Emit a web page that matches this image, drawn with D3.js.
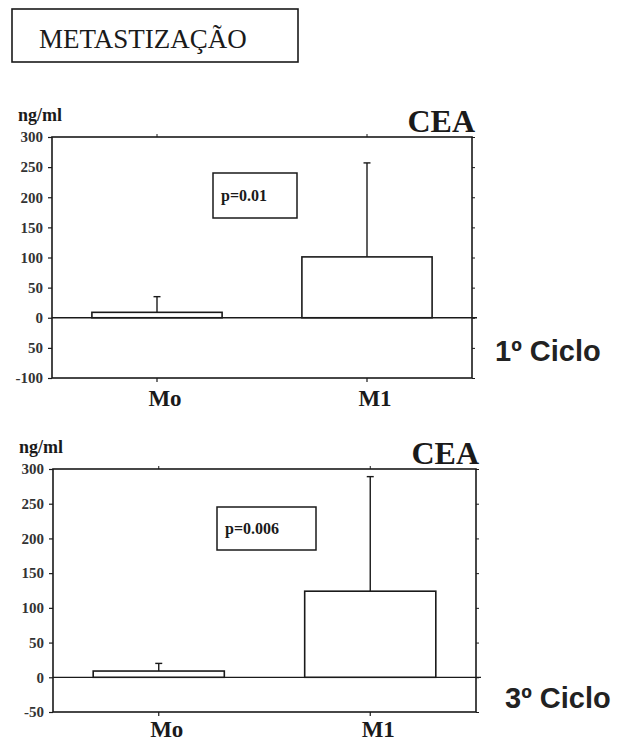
<!DOCTYPE html>
<html>
<head>
<meta charset="utf-8">
<script src="https://cdn.jsdelivr.net/npm/d3@7/dist/d3.min.js"></script>
<style>
  html, body { margin: 0; padding: 0; background: #fff; }
  svg { display: block; }
</style>
</head>
<body>
<svg id="chart" width="620" height="745"></svg>
<script>
// ---------------- DATA ----------------
const title = "METASTIZAÇÃO";
const categories = ["Mo", "M1"];
const unitLabel = "ng/ml";
const markerName = "CEA";

const cycleLabels = ["1º Ciclo", "3º Ciclo"];
const pValueLabels = ["p=0.01", "p=0.006"];

const cycle1Means = [9, 101];
const cycle1Upper = [35, 257];
const cycle3Means = [9, 124];
const cycle3Upper = [20, 289];

const cycle1Ticks = [300, 250, 200, 150, 100, 50, 0, -50, -100];
const cycle1TickLabels = ["300", "250", "200", "150", "100", "50", "0", "50", "-100"];
const cycle3Ticks = [300, 250, 200, 150, 100, 50, 0, -50];
const cycle3TickLabels = ["300", "250", "200", "150", "100", "50", "0", "-50"];

const cycle1Domain = [-100, 300];
const cycle3Domain = [-50, 300];

// ---------------- DRAW ----------------
const svg = d3.select("#chart");
const ink = "#1a1a1a";
const serif = "Liberation Serif";

function serifBold(sel, size) {
  return sel.style("font-family", serif).style("font-size", size + "px")
    .style("font-weight", "bold").attr("fill", ink);
}

// title box
svg.append("rect")
  .attr("x", 12).attr("y", 9).attr("width", 286).attr("height", 53)
  .attr("fill", "none").attr("stroke", ink).attr("stroke-width", 1.6);
svg.append("text")
  .attr("x", 39).attr("y", 48)
  .style("font-family", serif)
  .style("font-size", "27px").attr("fill", ink)
  .text(title);

function drawPanel(cfg) {
  const g = svg.append("g");
  const y = d3.scaleLinear().domain(cfg.domain).range([cfg.bottom, cfg.top]);
  const x = d3.scaleBand().domain(categories).range([cfg.left, cfg.right]).padding(0);
  const bw = x.bandwidth() * 0.62;
  const cx = c => x(c) + x.bandwidth() / 2;

  // left axis
  const leftAxis = d3.axisLeft(y).tickValues(cfg.ticks)
    .tickFormat((d, i) => cfg.tickLabels[i]).tickSizeOuter(0).tickSize(4).tickPadding(5);
  const la = g.append("g").attr("transform", `translate(${cfg.left},0)`).call(leftAxis);
  la.select(".domain").remove();
  la.selectAll("line").attr("stroke", ink).attr("stroke-width", 1.2);
  serifBold(la.selectAll("text"), 15).attr("fill", "#333");

  // right axis ticks
  const rightAxis = d3.axisRight(y).tickValues(cfg.ticks).tickFormat("").tickSize(3).tickSizeOuter(0);
  const ra = g.append("g").attr("transform", `translate(${cfg.right},0)`).call(rightAxis);
  ra.select(".domain").remove();
  ra.selectAll("line").attr("stroke", ink).attr("stroke-width", 1);

  // top ticks at categories
  const topAxis = d3.axisTop(x).tickSize(3).tickFormat("").tickSizeOuter(0);
  const ta = g.append("g").attr("transform", `translate(0,${cfg.top})`).call(topAxis);
  ta.select(".domain").remove();
  ta.selectAll("line").attr("stroke", ink).attr("stroke-width", 1);

  // bottom axis
  const bottomAxis = d3.axisBottom(x).tickSize(4).tickSizeOuter(0).tickPadding(cfg.labelPad);
  const ba = g.append("g").attr("transform", `translate(0,${cfg.bottom})`).call(bottomAxis);
  ba.select(".domain").remove();
  ba.selectAll("line").attr("stroke", ink).attr("stroke-width", 1.2);
  serifBold(ba.selectAll("text"), 23).attr("dx", 8);

  // frame
  g.append("rect")
    .attr("x", cfg.left).attr("y", cfg.top)
    .attr("width", cfg.right - cfg.left).attr("height", cfg.bottom - cfg.top)
    .attr("fill", "none").attr("stroke", ink).attr("stroke-width", 1.6);

  // zero line
  g.append("line")
    .attr("x1", cfg.left).attr("x2", cfg.right + 5)
    .attr("y1", y(0)).attr("y2", y(0))
    .attr("stroke", ink).attr("stroke-width", 1.3);

  // error bars (upper only)
  categories.forEach((c, i) => {
    g.append("line")
      .attr("x1", cx(c)).attr("x2", cx(c))
      .attr("y1", y(cfg.means[i])).attr("y2", y(cfg.upper[i]))
      .attr("stroke", ink).attr("stroke-width", 1.4);
    g.append("line")
      .attr("x1", cx(c) - 3.5).attr("x2", cx(c) + 3.5)
      .attr("y1", y(cfg.upper[i])).attr("y2", y(cfg.upper[i]))
      .attr("stroke", ink).attr("stroke-width", 1.4);
  });

  // bars
  g.selectAll("rect.bar").data(categories).join("rect")
    .attr("class", "bar")
    .attr("x", c => cx(c) - bw / 2)
    .attr("width", bw)
    .attr("y", (c, i) => y(cfg.means[i]))
    .attr("height", (c, i) => y(0) - y(cfg.means[i]))
    .attr("fill", "#fff").attr("stroke", ink).attr("stroke-width", 1.6);

  // unit label
  serifBold(g.append("text")
    .attr("x", cfg.left - 34).attr("y", cfg.top - 16), 18)
    .text(unitLabel);

  // marker label
  serifBold(g.append("text")
    .attr("x", cfg.right + 3).attr("y", cfg.top - 5)
    .attr("text-anchor", "end"), 32)
    .text(markerName);

  // p-value box
  g.append("rect")
    .attr("x", cfg.pBox[0]).attr("y", cfg.pBox[1])
    .attr("width", cfg.pBox[2]).attr("height", cfg.pBox[3])
    .attr("fill", "#fff").attr("stroke", ink).attr("stroke-width", 1.5);
  serifBold(g.append("text")
    .attr("x", cfg.pBox[0] + 8).attr("y", cfg.pBox[1] + cfg.pBox[3] / 2 + 5), 16)
    .text(cfg.pLabel);

  // cycle label
  g.append("text")
    .attr("x", cfg.right + cfg.cycleDx).attr("y", cfg.bottom + cfg.cycleDy)
    .style("font-family", "Liberation Sans").style("font-weight", "bold")
    .style("font-size", "29px").attr("fill", "#222")
    .text(cfg.cycleLabel);
}

drawPanel({
  left: 52, right: 472, top: 137, bottom: 378,
  domain: cycle1Domain, ticks: cycle1Ticks, tickLabels: cycle1TickLabels,
  means: cycle1Means, upper: cycle1Upper,
  pBox: [213, 173, 84, 45], pLabel: pValueLabels[0],
  cycleLabel: cycleLabels[0], cycleDx: 23, cycleDy: -17,
  labelPad: 8
});

drawPanel({
  left: 53, right: 476, top: 469, bottom: 712,
  domain: cycle3Domain, ticks: cycle3Ticks, tickLabels: cycle3TickLabels,
  means: cycle3Means, upper: cycle3Upper,
  pBox: [217, 507, 99, 43], pLabel: pValueLabels[1],
  cycleLabel: cycleLabels[1], cycleDx: 29, cycleDy: -4,
  labelPad: 5
});
</script>
</body>
</html>
